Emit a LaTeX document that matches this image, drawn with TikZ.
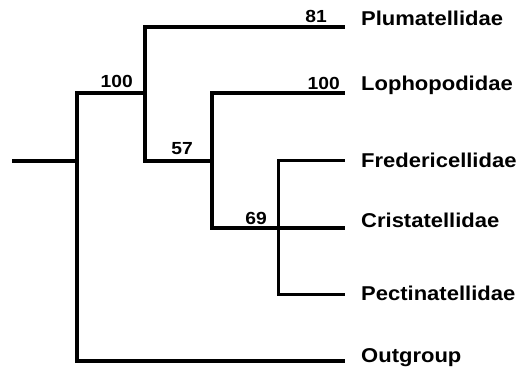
\documentclass[tikz,border=0pt]{standalone}
\usepackage{fontspec}
\setmainfont{Liberation Sans}[FakeStretch=1.1]
\begin{document}
\begin{tikzpicture}[x=1pt,y=-1pt,
  br/.style={line width=4.5pt,line join=miter},
  thin/.style={line width=3pt,line join=miter},
  taxon/.style={anchor=base west,inner sep=0pt,font=\fontsize{20}{22}\selectfont\bfseries},
  supp/.style={anchor=base east,inner sep=0pt,font=\fontsize{17.5}{19}\selectfont\bfseries}]
\useasboundingbox (0,0) rectangle (529,371);
\coordinate (r0) at (12,161);
\coordinate (n1) at (77,161);
\coordinate (n2) at (145,93);
\coordinate (n3) at (212,161);
\coordinate (n4) at (278,228);
\coordinate (lP) at (345,27);
\coordinate (lL) at (345,93);
\coordinate (lF) at (345,161);
\coordinate (lC) at (345,228);
\coordinate (lPe) at (345,294);
\coordinate (lO) at (345,361);
\draw[br] (r0) -- (n1);
\draw[br] (n1) |- (n2);
\draw[br] (n1) |- (lO);
\draw[br] (n2) |- (lP);
\draw[br] (n2) |- (n3);
\draw[br] (n3) |- (lL);
\draw[br] (n3) |- (lC);
\draw[thin] (n4) |- (lF);
\draw[thin] (n4) |- (lPe);
\node[taxon] (tP) at (361,26) {Plumatellidae};
\node[taxon] (tL) at (361,91) {Lophopodidae};
\node[taxon] (tF) at (361,168) {Fredericellidae};
\node[taxon] (tC) at (361,227) {Cristatellidae};
\node[taxon] (tPe) at (361,300) {Pectinatellidae};
\node[taxon] (tO) at (361,362) {Outgroup};
\node[supp] (s81) at (327,23) {81};
\node[supp] (s100a) at (340,90) {100};
\node[supp] (s100b) at (133,88) {100};
\node[supp] (s57) at (193,155) {57};
\node[supp] (s69) at (267,224) {69};
\end{tikzpicture}
\end{document}
